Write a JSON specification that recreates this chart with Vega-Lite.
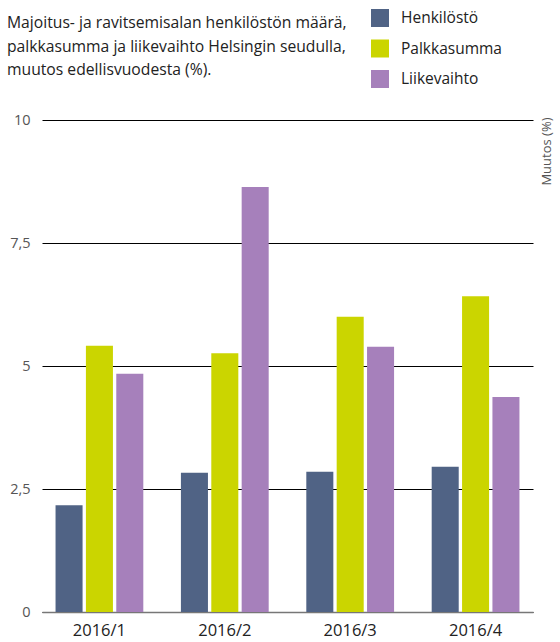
{
  "$schema": "https://vega.github.io/schema/vega-lite/v6.json",
  "autosize": {"type": "none"},
  "width": 491,
  "height": 492,
  "padding": {"left": 42, "top": 120, "right": 27, "bottom": 30},
  "background": "white",
  "config": {
    "view": {"stroke": null},
    "font": "Open Sans"
  },
  "title": {
    "text": ["Majoitus- ja ravitsemisalan henkilöstön määrä,", "palkkasumma ja liikevaihto Helsingin seudulla,", "muutos edellisvuodesta (%)."],
    "anchor": "start",
    "frame": "group",
    "orient": "top",
    "dx": -35,
    "offset": -70,
    "font": "Open Sans",
    "fontSize": 15.7,
    "fontWeight": "normal",
    "color": "#222222",
    "lineHeight": 23.5,
    "baseline": "top"
  },
  "data": {
    "values": [
      {"quarter": "2016/1", "series": "Henkilöstö", "value": 2.17},
      {"quarter": "2016/1", "series": "Palkkasumma", "value": 5.41},
      {"quarter": "2016/1", "series": "Liikevaihto", "value": 4.84},
      {"quarter": "2016/2", "series": "Henkilöstö", "value": 2.83},
      {"quarter": "2016/2", "series": "Palkkasumma", "value": 5.26},
      {"quarter": "2016/2", "series": "Liikevaihto", "value": 8.64},
      {"quarter": "2016/3", "series": "Henkilöstö", "value": 2.85},
      {"quarter": "2016/3", "series": "Palkkasumma", "value": 6.0},
      {"quarter": "2016/3", "series": "Liikevaihto", "value": 5.39},
      {"quarter": "2016/4", "series": "Henkilöstö", "value": 2.95},
      {"quarter": "2016/4", "series": "Palkkasumma", "value": 6.42},
      {"quarter": "2016/4", "series": "Liikevaihto", "value": 4.37}
    ]
  },
  "mark": {"type": "bar"},
  "encoding": {
    "x": {
      "field": "quarter",
      "type": "nominal",
      "scale": {"paddingInner": 0.3, "paddingOuter": 0.108},
      "axis": {
        "title": null,
        "labelAngle": 0,
        "labelFont": "Open Sans",
        "labelFontSize": 16.5,
        "labelColor": "#222222",
        "labelPadding": 10,
        "ticks": false,
        "domain": true,
        "domainColor": "#777777",
        "domainWidth": 1.5,
        "grid": false
      }
    },
    "xOffset": {
      "field": "series",
      "type": "nominal",
      "sort": ["Henkilöstö", "Palkkasumma", "Liikevaihto"],
      "scale": {"paddingInner": 0.11, "paddingOuter": 0}
    },
    "y": {
      "field": "value",
      "type": "quantitative",
      "scale": {"domain": [0, 10], "nice": false},
      "axis": {
        "values": [0, 2.5, 5, 7.5, 10],
        "labelExpr": "replace(format(datum.value, '~g'), '.', ',')",
        "ticks": false,
        "domain": false,
        "grid": true,
        "gridColor": "#000000",
        "gridWidth": 1,
        "gridOpacity": 1,
        "labelFont": "Open Sans",
        "labelFontSize": 14.5,
        "labelColor": "#555555",
        "labelPadding": 12,
        "title": "Muutos (%)",
        "titleFont": "Open Sans",
        "titleFontSize": 13,
        "titleFontWeight": "normal",
        "titleColor": "#555555",
        "titleAngle": -90,
        "titleX": 504,
        "titleY": -3,
        "titleAlign": "right",
        "titleBaseline": "middle"
      }
    },
    "color": {
      "field": "series",
      "type": "nominal",
      "sort": ["Henkilöstö", "Palkkasumma", "Liikevaihto"],
      "scale": {
        "domain": ["Henkilöstö", "Palkkasumma", "Liikevaihto"],
        "range": ["#506385", "#cbd500", "#a680bb"]
      },
      "legend": {
        "title": null,
        "orient": "none",
        "legendX": 329,
        "legendY": -111,
        "symbolType": "square",
        "symbolSize": 324,
        "symbolStrokeWidth": 0,
        "symbolOpacity": 1,
        "labelFont": "Open Sans",
        "labelFontSize": 15.5,
        "labelColor": "#222222",
        "labelOffset": 12,
        "rowPadding": 12.5
      }
    }
  }
}
